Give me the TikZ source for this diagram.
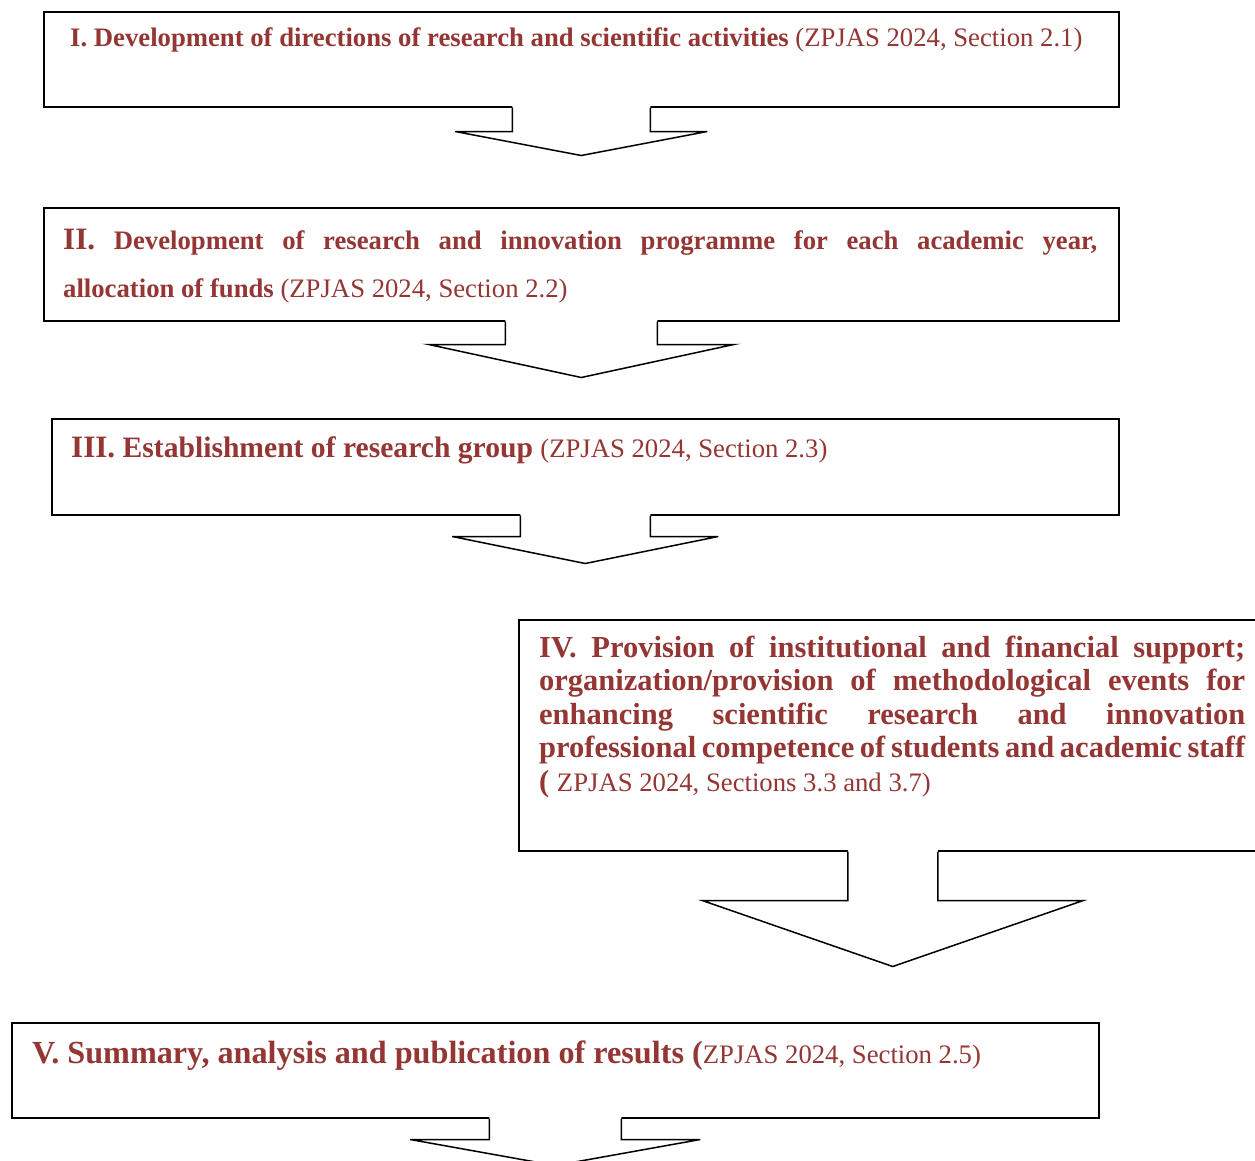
\documentclass[tikz,border=0pt]{standalone}
\usepackage{fontspec}
\setmainfont{Liberation Serif}
\usetikzlibrary{calc}

\definecolor{stepred}{HTML}{943634}
\newcommand{\rgsz}{\fontsize{26.7}{30}\selectfont}
\newcommand{\bgsz}{\fontsize{31.1}{34}\selectfont}
\newcommand{\mdsz}{\fontsize{29.6}{32}\selectfont}
\newcommand{\srcref}[1]{{\rgsz\mdseries #1}}

\tikzset{
  stepbox/.style={draw, line width=1.5pt, rectangle, inner sep=0pt, anchor=north west},
  steptext/.style={text=stepred, inner sep=0pt, anchor=base west},
  arrowline/.style={line width=1.5pt, line join=miter},
}

% block arrow under a box: node, half shaft, half head, shoulder depth, tip depth
\newcommand{\blockarrow}[5]{%
  \fill[white] ($(#1.south)+(-#2,-2)$) -- ($(#1.south)+(-#2,#4)$) -- ($(#1.south)+(-#3,#4)$)
    -- ($(#1.south)+(0,#5)$) -- ($(#1.south)+(#3,#4)$) -- ($(#1.south)+(#2,#4)$)
    -- ($(#1.south)+(#2,-2)$) -- cycle;
  \draw[arrowline] ($(#1.south)+(-#2,0)$) -- ($(#1.south)+(-#2,#4)$) -- ($(#1.south)+(-#3,#4)$)
    -- ($(#1.south)+(0,#5)$) -- ($(#1.south)+(#3,#4)$) -- ($(#1.south)+(#2,#4)$)
    -- ($(#1.south)+(#2,0)$);
}

\begin{document}
\begin{tikzpicture}[x=1pt,y=-1pt]
  \clip (0,0) rectangle (1255,1160);
  \fill[white] (0,0) rectangle (1255,1160);

  % boxes
  \node[stepbox, minimum width=1075pt, minimum height=95pt] (dirs) at (43,11) {};
  \node[stepbox, minimum width=1075pt, minimum height=113pt] (prog) at (43,207) {};
  \node[stepbox, minimum width=1067pt, minimum height=96pt] (group) at (51,418) {};
  \node[stepbox, minimum width=748pt, minimum height=231pt] (support) at (518,619) {};
  \node[stepbox, minimum width=1087pt, minimum height=95pt] (results) at (11,1022) {};

  % arrows
  \blockarrow{dirs}{69}{126}{24}{48}
  \blockarrow{prog}{76}{152.5}{23}{56}
  \blockarrow{group}{65}{133}{21}{48}
  \blockarrow{support}{45}{190.5}{49}{115}
  \blockarrow{results}{66}{145}{21}{47}

  % texts
  \node[steptext, font=\rgsz\bfseries] (dirst) at ($(dirs.north west)+(27,35)$)
    {I. Development of directions of research and scientific activities \srcref{(ZPJAS 2024, Section 2.1)}};
  \node[steptext, text width=1034pt, align=justify, font={\fontsize{26.7}{48}\selectfont\bfseries}] (progt)
    at ($(prog.north west)+(20,42)$)
    {{\fontsize{31.1}{48}\selectfont II.} Development of research and innovation programme for each academic year,\linebreak
     allocation of funds {\fontsize{26.7}{48}\selectfont\mdseries (ZPJAS 2024, Section 2.2)}};
  \node[steptext, font=\mdsz\bfseries] (groupt) at ($(group.north west)+(20,39)$)
    {{\bgsz III.} Establishment of research group \srcref{(ZPJAS 2024, Section 2.3)}};
  \node[steptext, text width=706pt, align=justify, font={\fontsize{30.5}{33.5}\selectfont\bfseries}] (supportt)
    at ($(support.north west)+(21,38)$)
    {IV. Provision of institutional and financial support;\linebreak
     organization/provision of methodological events for\linebreak
     enhancing scientific research and innovation\linebreak
     professional competence of students and academic staff\linebreak
     ( {\fontsize{26.7}{33.5}\selectfont\mdseries ZPJAS 2024, Sections 3.3 and 3.7)}};
  \node[steptext, font={\fontsize{32.2}{34}\selectfont\bfseries}] (resultst) at ($(results.north west)+(21,41)$)
    {V. Summary, analysis and publication of results (\srcref{ZPJAS 2024, Section 2.5)}};
\end{tikzpicture}
\end{document}
